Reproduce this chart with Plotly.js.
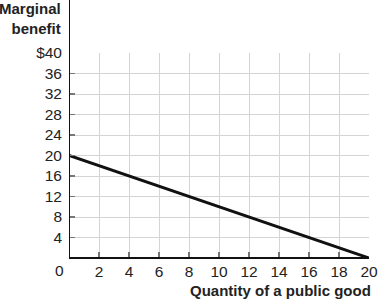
<!DOCTYPE html>
<html><head><meta charset="utf-8">
<script src="https://cdn.plot.ly/plotly-3.0.1.min.js"></script>
<style>body{margin:0;background:#fff}#c{width:382px;height:299px}</style>
</head><body><div id="c"></div>
<script>
const quantity = [0, 20];
const benefit = [20, 0];
const xTicks = [2, 4, 6, 8, 10, 12, 14, 16, 18, 20];
const xTickLabels = ["2", "4", "6", "8", "10", "12", "14", "16", "18", "20"];
const yTicks = [4, 8, 12, 16, 20, 24, 28, 32, 36, 40];
const yTickLabels = ["4", "8", "12", "16", "20", "24", "28", "32", "36", "$40"];

const font = {family: "Liberation Sans, Arial, sans-serif", size: 15.5, color: "#222"};
const data = [{
  x: quantity, y: benefit, mode: "lines", type: "scatter",
  line: {color: "#111", width: 3}, hoverinfo: "skip", cliponaxis: false
}];
const layout = {
  width: 382, height: 299,
  margin: {l: 69, r: 13, t: 53, b: 41},
  paper_bgcolor: "#fff", plot_bgcolor: "#fff",
  showlegend: false, font: font,
  xaxis: {
    range: [0, 20], tickmode: "array", tickvals: xTicks, ticktext: xTickLabels,
    ticks: "inside", ticklen: 6, tickwidth: 1.5, tickcolor: "#777",
    ticklabelstandoff: 2,
    showgrid: true, gridcolor: "#d4d4d4", gridwidth: 1,
    showline: false, zeroline: false, tickfont: font, fixedrange: true
  },
  yaxis: {
    range: [0, 40], tickmode: "array", tickvals: yTicks, ticktext: yTickLabels,
    ticks: "inside", ticklen: 6, tickwidth: 1.5, tickcolor: "#777",
    ticklabelstandoff: 6,
    showgrid: true, gridcolor: "#d4d4d4", gridwidth: 1,
    showline: false, zeroline: false, tickfont: font, fixedrange: true
  },
  shapes: [
    {type: "line", xref: "x", yref: "paper", x0: 0, x1: 0, y0: 0, y1: 1.26, line: {color: "#111", width: 2}},
    {type: "line", xref: "x", yref: "paper", x0: 0, x1: 20, y0: 0, y1: 0, line: {color: "#111", width: 2}}
  ],
  annotations: [
    {text: "<b>Marginal<br>benefit</b>", xref: "paper", yref: "paper", x: -0.02, y: 1.27,
     xanchor: "right", yanchor: "top", align: "right", showarrow: false,
     font: {family: font.family, size: 15, color: "#222"}},
    {text: "<b>Quantity of a public good</b>", xref: "paper", yref: "paper", x: 1.013, y: -0.158,
     xanchor: "right", yanchor: "middle", showarrow: false,
     font: {family: font.family, size: 15, color: "#222"}},
    {text: "0", xref: "x", yref: "paper", x: 0, y: 0, xshift: -10, yshift: -2,
     xanchor: "center", yanchor: "top", showarrow: false, font: font}
  ]
};
Plotly.newPlot("c", data, layout, {displayModeBar: false, staticPlot: true});
</script></body></html>
